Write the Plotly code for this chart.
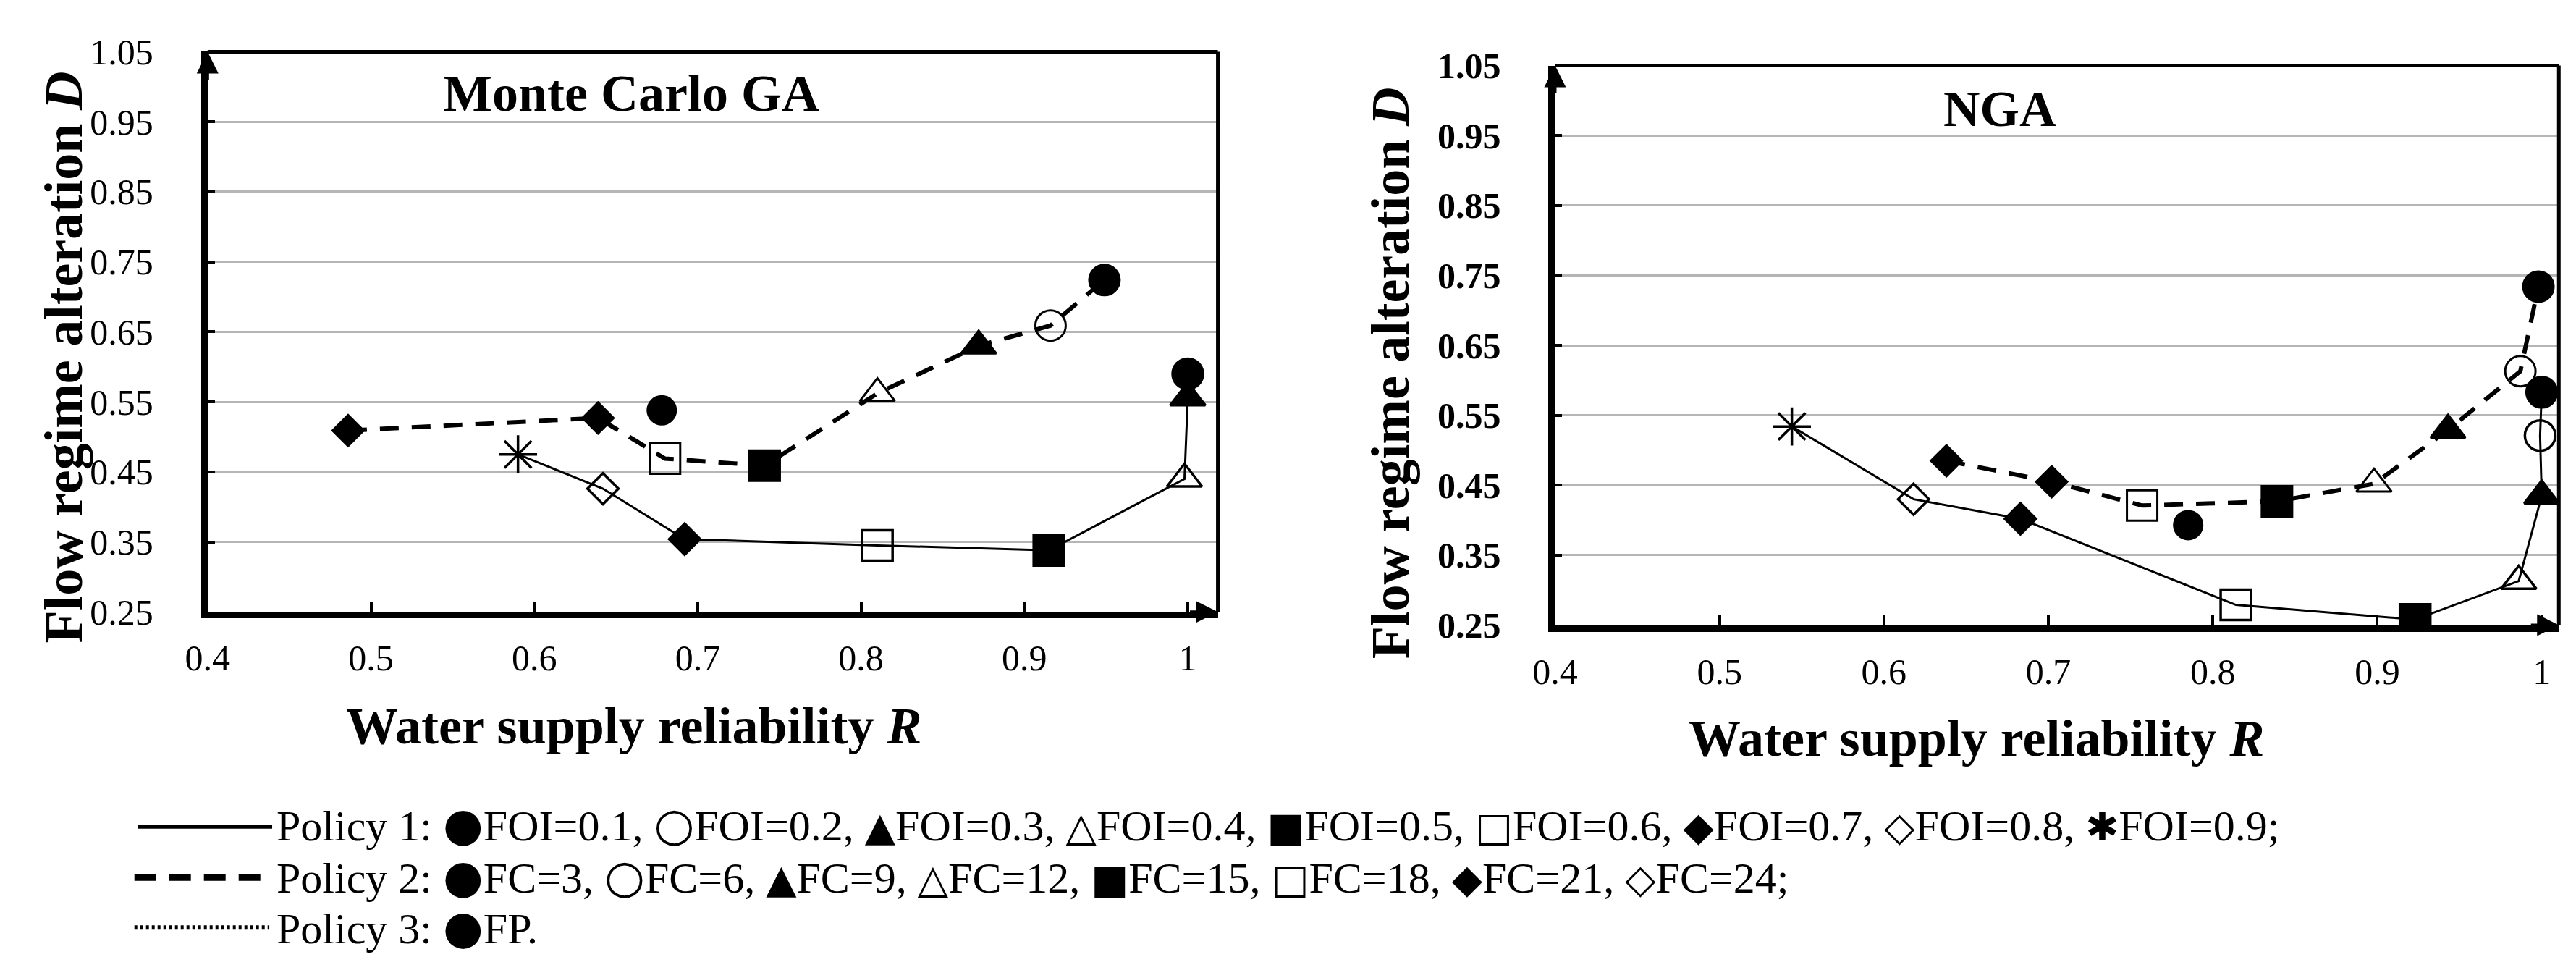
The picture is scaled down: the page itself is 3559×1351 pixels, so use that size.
import plotly.graph_objects as go

W, H = 3559, 1351

# ---- data ----
# Monte Carlo GA
ga_p1_R = [0.590, 0.642, 0.692, 0.810, 0.915, 0.998, 1.000, 1.000]
ga_p1_D = [0.475, 0.426, 0.354, 0.345, 0.338, 0.440, 0.556, 0.590]
ga_p1_lab = ['FOI=0.9', 'FOI=0.8', 'FOI=0.7', 'FOI=0.6', 'FOI=0.5', 'FOI=0.4', 'FOI=0.3', 'FOI=0.1']

ga_p2_R = [0.486, 0.639, 0.680, 0.741, 0.810, 0.872, 0.916, 0.949]
ga_p2_D = [0.509, 0.527, 0.469, 0.459, 0.562, 0.630, 0.659, 0.724]
ga_p2_lab = ['FC=24', 'FC=21', 'FC=18', 'FC=15', 'FC=12', 'FC=9', 'FC=6', 'FC=3']

ga_p3_R = [0.678]
ga_p3_D = [0.538]

# NGA
nga_p1_R = [0.544, 0.618, 0.683, 0.814, 0.923, 0.986, 1.000, 0.999, 1.000]
nga_p1_D = [0.534, 0.430, 0.402, 0.279, 0.258, 0.313, 0.435, 0.521, 0.583]
nga_p1_lab = ['FOI=0.9', 'FOI=0.8', 'FOI=0.7', 'FOI=0.6', 'FOI=0.5', 'FOI=0.4', 'FOI=0.3', 'FOI=0.2', 'FOI=0.1']

nga_p2_R = [0.638, 0.702, 0.757, 0.839, 0.898, 0.943, 0.987, 0.998]
nga_p2_D = [0.485, 0.455, 0.421, 0.427, 0.452, 0.529, 0.613, 0.734]
nga_p2_lab = ga_p2_lab

nga_p3_R = [0.785]
nga_p3_D = [0.393]

x_ticks = [0.4, 0.5, 0.6, 0.7, 0.8, 0.9, 1.0]
x_ticktext = ['0.4', '0.5', '0.6', '0.7', '0.8', '0.9', '1']
y_ticks = [0.25, 0.35, 0.45, 0.55, 0.65, 0.75, 0.85, 0.95, 1.05]
y_ticktext = ['0.25', '0.35', '0.45', '0.55', '0.65', '0.75', '0.85', '0.95', '1.05']

# marker per setting (FC=24 is drawn filled in the original too)
sym = {
    'FOI=0.1': 'circle', 'FOI=0.2': 'circle-open', 'FOI=0.3': 'triangle-up',
    'FOI=0.4': 'triangle-up-open', 'FOI=0.5': 'square', 'FOI=0.6': 'square-open',
    'FOI=0.7': 'diamond', 'FOI=0.8': 'diamond-open', 'FOI=0.9': 'asterisk-open',
    'FC=3': 'circle', 'FC=6': 'circle-open', 'FC=9': 'triangle-up',
    'FC=12': 'triangle-up-open', 'FC=15': 'square', 'FC=18': 'square-open',
    'FC=21': 'diamond', 'FC=24': 'diamond',
}
msize = {'circle': 42, 'square': 42, 'triangle': 42, 'diamond': 33, 'asterisk': 44}


def sizes(labels):
    return [msize[sym[l].split('-')[0]] for l in labels]


FONT = 'Liberation Serif'
fig = go.Figure()

panels = [
    ('x', 'y', ga_p1_R, ga_p1_D, ga_p1_lab, ga_p2_R, ga_p2_D, ga_p2_lab, ga_p3_R, ga_p3_D),
    ('x2', 'y2', nga_p1_R, nga_p1_D, nga_p1_lab, nga_p2_R, nga_p2_D, nga_p2_lab, nga_p3_R, nga_p3_D),
]
for xa, ya, r1, d1, l1, r2, d2, l2, r3, d3 in panels:
    fig.add_trace(go.Scatter(
        x=r1, y=d1, xaxis=xa, yaxis=ya, mode='lines+markers', name='Policy 1',
        line=dict(color='black', width=3),
        marker=dict(symbol=[sym[l] for l in l1], size=sizes(l1), color='black', opacity=1,
                    line=dict(color='black', width=3.5))))
    fig.add_trace(go.Scatter(
        x=r2, y=d2, xaxis=xa, yaxis=ya, mode='lines+markers', name='Policy 2',
        line=dict(color='black', width=6, dash='26px,18px'),
        marker=dict(symbol=[sym[l] for l in l2], size=sizes(l2), color='black', opacity=1,
                    line=dict(color='black', width=3))))
    fig.add_trace(go.Scatter(
        x=r3, y=d3, xaxis=xa, yaxis=ya, mode='lines+markers', name='Policy 3',
        line=dict(color='black', width=4, dash='dot'),
        marker=dict(symbol='circle', size=42, color='black', opacity=1)))


def px(x):
    return x / W


def py(y):
    return 1 - y / H


def xax(dom, end, anchor):
    return dict(domain=dom, range=[0.4, end], anchor=anchor, showgrid=False, zeroline=False,
                showline=True, linecolor='black', linewidth=9,
                tickvals=x_ticks, ticktext=x_ticktext, ticks='inside', ticklen=14,
                tickwidth=4, tickcolor='black', ticklabelstandoff=12,
                tickfont=dict(family=FONT, size=50, color='black'))


def yax(dom, anchor, bold):
    return dict(domain=dom, range=[0.25, 1.05], anchor=anchor, showgrid=True,
                gridcolor='#b5b5b5', gridwidth=3, zeroline=False,
                showline=True, linecolor='black', linewidth=9,
                tickvals=y_ticks, ticktext=y_ticktext, ticks='inside', ticklen=10,
                tickwidth=4, tickcolor='black', ticklabelstandoff=56,
                tickfont=dict(family=FONT, size=50, color='black',
                              weight='bold' if bold else 'normal'))


fig.update_layout(
    width=W, height=H, margin=dict(l=0, r=0, t=0, b=0),
    paper_bgcolor='white', plot_bgcolor='white', showlegend=False,
    xaxis=xax([px(250), px(1658)], 1.0184, 'y'),
    yaxis=yax([py(845), py(37)], 'x', False),
    xaxis2=xax([px(2128), px(3527)], 1.0104, 'y2'),
    yaxis2=yax([py(864), py(57)], 'x2', True),
)

shapes = []
# top and right frame lines
for xr, yr in [('x', 'y'), ('x2', 'y2')]:
    shapes.append(dict(type='line', xref=xr + ' domain', yref=yr + ' domain',
                       x0=0, x1=1, y0=1, y1=1, line=dict(color='black', width=5)))
    shapes.append(dict(type='line', xref=xr + ' domain', yref=yr + ' domain',
                       x0=1, x1=1, y0=0, y1=1, line=dict(color='black', width=5)))

# legend line samples
shapes.append(dict(type='line', xref='paper', yref='paper', x0=px(153), x1=px(340),
                   y0=py(1155), y1=py(1155), line=dict(color='black', width=5)))
shapes.append(dict(type='line', xref='paper', yref='paper', x0=px(148), x1=px(336),
                   y0=py(1228), y1=py(1228), line=dict(color='black', width=9, dash='30px,18px')))
shapes.append(dict(type='line', xref='paper', yref='paper', x0=px(148), x1=px(336),
                   y0=py(1300), y1=py(1300), line=dict(color='black', width=6, dash='4px,4px')))
fig.update_layout(shapes=shapes)

ann = []
# axis arrows
for xr, yr in [('x', 'y'), ('x2', 'y2')]:
    ann.append(dict(xref=xr + ' domain', yref=yr + ' domain', x=0, y=1, ax=0, ay=40,
                    text='', showarrow=True, arrowhead=2, arrowsize=1.5, arrowwidth=4,
                    arrowcolor='black'))
    ann.append(dict(xref=xr + ' domain', yref=yr + ' domain', x=1, y=0, ax=-40, ay=0,
                    text='', showarrow=True, arrowhead=2, arrowsize=1.5, arrowwidth=4,
                    arrowcolor='black'))


def label(x, y, text, size, angle=0):
    return dict(xref='paper', yref='paper', x=px(x), y=py(y), xanchor='center',
                yanchor='middle', text=text, showarrow=False, textangle=angle,
                font=dict(family=FONT, size=size, color='black'))


ann.append(label(840, 97, '<b>Monte Carlo GA</b>', 72))
ann.append(label(2748, 120, '<b>NGA</b>', 70))
ann.append(label(844, 1010, '<b>Water supply reliability <i>R</i></b>', 72))
ann.append(label(2715, 1027, '<b>Water supply reliability <i>R</i></b>', 72))
ann.append(label(49, 478, '<b>Flow regime alteration <i>D</i></b>', 74, -90))
ann.append(label(1898, 500, '<b>Flow regime alteration <i>D</i></b>', 74, -90))


def g(ch, size=55):
    return "<span style=\"font-family:'DejaVu Sans';font-size:%dpx\">%s</span>" % (size, ch)


big = 64
legend_lines = [
    'Policy 1: ' + g('\u25cf', big) + 'FOI=0.1, ' + g('\u25cb', big) + 'FOI=0.2, ' + g('\u25b2') + 'FOI=0.3, '
    + g('\u25b3') + 'FOI=0.4, ' + g('\u25a0') + 'FOI=0.5, ' + g('\u25a1') + 'FOI=0.6, '
    + g('\u25c6') + 'FOI=0.7, ' + g('\u25c7') + 'FOI=0.8, ' + g('\u2731') + 'FOI=0.9;',
    'Policy 2: ' + g('\u25cf', big) + 'FC=3, ' + g('\u25cb', big) + 'FC=6, ' + g('\u25b2') + 'FC=9, '
    + g('\u25b3') + 'FC=12, ' + g('\u25a0') + 'FC=15, ' + g('\u25a1') + 'FC=18, '
    + g('\u25c6') + 'FC=21, ' + g('\u25c7') + 'FC=24;',
    'Policy 3: ' + g('\u25cf', big) + 'FP.',
]
for txt, yy in zip(legend_lines, [1152, 1227, 1300]):
    ann.append(dict(xref='paper', yref='paper', x=px(344), y=py(yy), xanchor='left',
                    yanchor='middle', text=txt, showarrow=False,
                    font=dict(family=FONT, size=60, color='black')))
fig.update_layout(annotations=ann)

fig.write_html('out.html')
